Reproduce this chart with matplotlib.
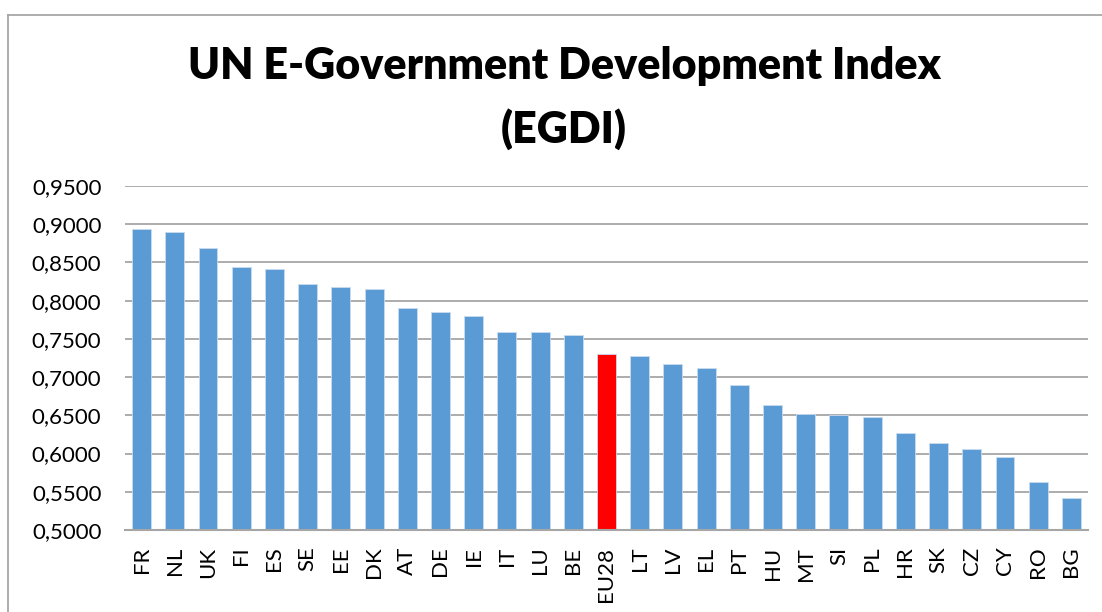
import matplotlib
matplotlib.use("Agg")
import matplotlib.pyplot as plt
from matplotlib.lines import Line2D
from matplotlib.ticker import FuncFormatter

countries = ["FR", "NL", "UK", "FI", "ES", "SE", "EE", "DK", "AT", "DE",
             "IE", "IT", "LU", "BE", "EU28", "LT", "LV", "EL", "PT", "HU",
             "MT", "SI", "PL", "HR", "SK", "CZ", "CY", "RO", "BG"]
egdi = [0.8935, 0.8892, 0.8692, 0.8444, 0.8409, 0.8213, 0.8174, 0.8153,
        0.7905, 0.7853, 0.7800, 0.7587, 0.7587, 0.7557, 0.7300, 0.7270,
        0.7178, 0.7117, 0.6901, 0.6634, 0.6517, 0.6504, 0.6478, 0.6274,
        0.6140, 0.6061, 0.5952, 0.5626, 0.5417]
yticks = [0.50, 0.55, 0.60, 0.65, 0.70, 0.75, 0.80, 0.85, 0.90, 0.95]
highlight = "EU28"

plt.rcParams['font.family'] = ['Lato', 'DejaVu Sans']

fig = plt.figure(figsize=(11.02, 6.12), dpi=100)
ax = fig.add_axes([125 / 1102, 1 - 530 / 612, (1088 - 125) / 1102, (530 - 186) / 612])

colors = ["#FF0000" if c == highlight else "#5B9BD5" for c in countries]
x = range(len(countries))
ax.bar(x, [v - 0.5 for v in egdi], bottom=0.5, width=0.57, color=colors,
       edgecolor="#c9dcf0", linewidth=0.6, zorder=3)

ax.set_xlim(-0.5, len(countries) - 0.5)
ax.set_ylim(0.5, 0.95)
ax.set_yticks(yticks)
ax.yaxis.set_major_formatter(FuncFormatter(lambda v, p: f"{v:.4f}".replace(".", ",")))
ax.set_xticks(list(x))
ax.set_xticklabels(countries, rotation=90)
ax.tick_params(axis="y", length=0, pad=17, labelsize=16)
ax.tick_params(axis="x", length=0, pad=12, labelsize=16)

ax.grid(axis="y", color="#a6a6a6", linewidth=1.3, zorder=0)
for s in ["top", "right", "left"]:
    ax.spines[s].set_visible(False)
ax.spines["bottom"].set_color("#a6a6a6")
ax.spines["bottom"].set_linewidth(1.5)
ax.spines["bottom"].set_zorder(4)

fig.text(564 / 1102, 1 - 66 / 612, "UN E-Government Development Index",
         ha="center", va="center", fontsize=31, fontweight="heavy")
fig.text(564 / 1102, 1 - 129 / 612, "(EGDI)",
         ha="center", va="center", fontsize=31, fontweight="heavy")

# chart area border (cropped at right and bottom)
fig.add_artist(Line2D([8 / 1102, 1.0], [1 - 15 / 612] * 2, transform=fig.transFigure,
                      color="#a0a0a0", linewidth=1.2))
fig.add_artist(Line2D([8 / 1102] * 2, [0.0, 1 - 15 / 612], transform=fig.transFigure,
                      color="#a0a0a0", linewidth=1.2))

fig.savefig("out.png", dpi=100)
